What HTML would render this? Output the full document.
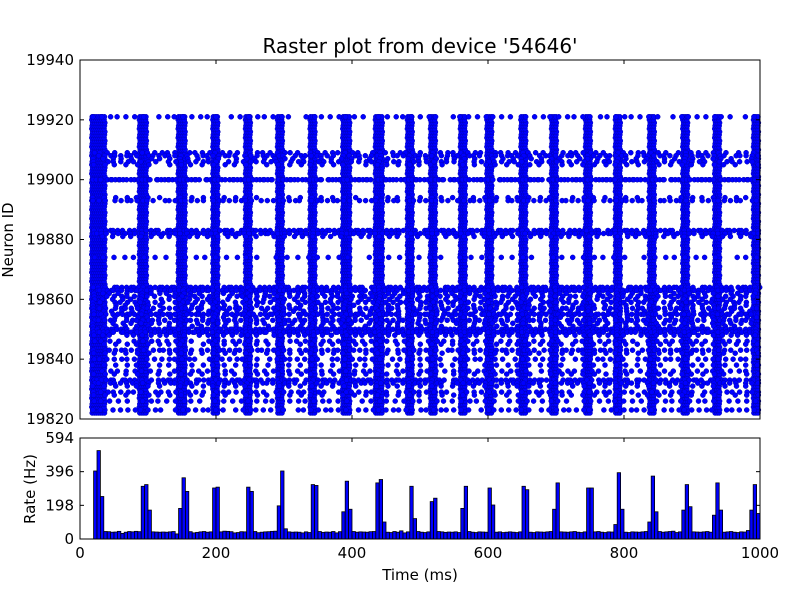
<!DOCTYPE html>
<html><head><meta charset="utf-8"><style>
body{margin:0;background:#fff;width:800px;height:600px;overflow:hidden}
text{font-family:"DejaVu Sans","Liberation Sans",sans-serif;fill:#000}
</style></head><body>
<svg id="chart" width="800" height="600" xmlns="http://www.w3.org/2000/svg"></svg>
<script>
// ---- data ----
const burstTimes = [28,93,150,200,248,295,343,392,440,486,520,564,603,653,698,748,792,842,891,938,995];
const burstWidths = [20,10,10,8,8,8,8,10,10,8,8,8,8,8,8,8,8,8,8,8,8];
const neuronMin = 19822, neuronMax = 19921;
const tonicIds = [19921,19909,19908,19907,19906,19905,19900,19894,19893,19883,19882,19881,19874,19864,19863,19862,19861,19860,19859,19858,19857,19856,19855,19854,19853,19852,19851,19850,19849,19848,19846,19845,19843,19842,19840,19838,19836,19835,19833,19832,19831,19829,19828,19826,19823];
const tonicIntervals = [12,10,8,14,10,16,4,16,8,6,6,14,15,6,5,12,10,14,10,16,8,14,6,16,8,14,16,5,5,12,12,16,8,16,10,16,12,16,6,8,16,10,16,12,10];
const binStart = 20, binWidth = 5;
const baselineRates = [
40,45,42,44,43,40,41,45,33,40,44,42,45,43,44,38,40,42,41,40,
41,40,42,44,30,44,40,42,43,36,39,42,44,40,42,43,44,42,46,45,
43,36,38,43,42,41,40,44,37,40,42,43,45,46,44,48,60,42,40,41,
40,36,42,38,40,42,44,39,41,40,44,36,43,42,41,40,44,40,42,41,
40,43,44,40,42,41,40,38,44,40,48,36,42,40,43,44,40,38,42,41,
40,44,42,39,41,40,42,38,40,42,44,40,38,42,41,40,42,45,40,42,
38,40,42,40,38,42,41,44,40,38,42,41,40,42,44,40,38,42,41,40,
42,44,40,38,42,41,40,42,44,40,38,42,41,40,42,44,40,38,42,41,
40,42,44,40,38,42,44,40,42,44,46,38,42,44,40,38,42,41,40,42,
44,40,38,42,41,40,42,44,40,38,42,41,40,42,44,40];
const burstBinTimes = [20,25,30,90,95,100,145,150,155,195,200,245,250,290,295,300,340,345,385,390,395,435,440,445,485,490,515,520,560,565,600,605,650,655,695,700,745,750,785,790,795,835,840,845,885,890,895,930,935,940,980,985,990,995];
const burstRates    = [400,520,250,310,320,170,180,360,280,300,305,305,280,195,400,60,320,315,160,340,175,330,350,100,310,120,220,240,180,310,300,200,310,290,175,330,300,300,85,390,175,100,370,160,170,320,190,140,330,170,50,170,320,150];
const xTicks = [0,200,400,600,800,1000];
const yTicksTop = [19820,19840,19860,19880,19900,19920,19940];
const yTicksRate = [0,198,396,594];

// ---- scales ----
const L=80,R=760,T1=60,B1=419,T2=438,B2=539;
const xs=t=>L+(t/1000)*(R-L);
const ys1=v=>B1-(v-19820)/120*(B1-T1);
const ys2=v=>B2-(v/594)*(B2-T2);
const svg=document.getElementById('chart');const NS='http://www.w3.org/2000/svg';
function mk(tag,attrs,parent){const e=document.createElementNS(NS,tag);for(const k in attrs)e.setAttribute(k,attrs[k]);(parent||svg).appendChild(e);return e;}

// raster
const g=mk('g',{});


let dots='';
function dot(t,id){if(t<0||t>1000)return;dots+=`<circle cx="${xs(t).toFixed(1)}" cy="${ys1(id).toFixed(1)}" r="2.5" fill="#0000ff" stroke="#0000b0" stroke-width="0.5"/>`;}
for(let b=0;b<burstTimes.length;b++){
  const c=burstTimes[b],w=burstWidths[b];
  for(let id=neuronMin;id<=neuronMax;id++){
    for(let t=c-w/2;t<=c+w/2;t+=3) dot(t+((id*7)%3-1)*0.6,id);
  }
}
for(let r=0;r<tonicIds.length;r++){
  const id=tonicIds[r],iv=tonicIntervals[r];
  for(let k=0;20+k*iv<1000;k++){
    const j=((k*37+id*13)%7-3)*0.5;
    if(((k*11+id)%9)===0) continue;
    dot(20+k*iv+j,id);
  }
}
g.innerHTML=dots;

// histogram
const rates=baselineRates.slice();
burstBinTimes.forEach((t,i)=>{rates[(t-binStart)/binWidth]=burstRates[i];});
const hg=mk('g',{});


rates.forEach((v,i)=>{
  const t=binStart+i*binWidth;
  const r=mk('rect',{x:xs(t),y:ys2(v),width:xs(t+binWidth)-xs(t),height:B2-ys2(v),fill:'#0000ff',stroke:'#000','stroke-width':0.8},hg);
  
  
});

// frames
const f1=mk('rect',{x:L,y:T1,width:R-L,height:B1-T1,fill:'none',stroke:'#000','stroke-width':1});

const f2=mk('rect',{x:L,y:T2,width:R-L,height:B2-T2,fill:'none',stroke:'#000','stroke-width':1});


// ticks
xTicks.forEach(t=>{
  const x=xs(t);
  [[B1,-4],[T1,4],[B2,-4],[T2,4]].forEach(([y,d])=>mk('line',{x1:x,x2:x,y1:y,y2:y+d,stroke:'#000'}));
  const tx=mk('text',{x:x,y:B2+19,'font-size':15,'text-anchor':'middle'});tx.textContent=t;
  
});
yTicksTop.forEach(v=>{
  const y=ys1(v);
  mk('line',{x1:L,x2:L+4,y1:y,y2:y,stroke:'#000'});mk('line',{x1:R,x2:R-4,y1:y,y2:y,stroke:'#000'});
  const tx=mk('text',{x:L-6,y:y+5,'font-size':15,'text-anchor':'end'});tx.textContent=v;
  
});
yTicksRate.forEach(v=>{
  const y=ys2(v);
  mk('line',{x1:L,x2:L+4,y1:y,y2:y,stroke:'#000'});mk('line',{x1:R,x2:R-4,y1:y,y2:y,stroke:'#000'});
  const tx=mk('text',{x:L-6,y:y+5,'font-size':15,'text-anchor':'end'});tx.textContent=v;
  
});
</script>
<svg width="800" height="600" style="position:absolute;left:0;top:0">
<text x="420" y="53" font-size="20" text-anchor="middle">Raster plot from device '54646'</text>
<text transform="translate(13,240) rotate(-90)" font-size="15" text-anchor="middle">Neuron ID</text>
<text transform="translate(35,489) rotate(-90)" font-size="15" text-anchor="middle">Rate (Hz)</text>
<text x="420" y="580" font-size="15" text-anchor="middle">Time (ms)</text>
</svg>
</body></html>
